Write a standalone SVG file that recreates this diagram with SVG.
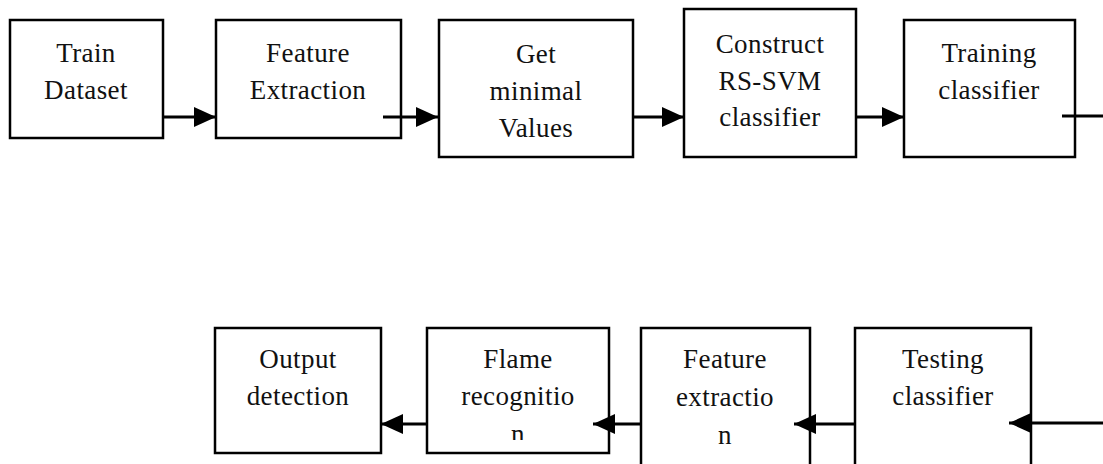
<svg xmlns="http://www.w3.org/2000/svg" width="1103" height="464" viewBox="0 0 1103 464">
<style>
.box{fill:#fff;stroke:#000;stroke-width:2.5}
.t{font-family:"Liberation Serif","Times New Roman",serif;font-size:27px;fill:#111;text-anchor:middle;letter-spacing:0.4px}
.c{stroke:#000;stroke-width:3;fill:none;marker-end:url(#ah)}
.c2{stroke:#000;stroke-width:3;fill:none}
</style>
<defs>
<marker id="ah" markerUnits="userSpaceOnUse" markerWidth="22" markerHeight="20" refX="22" refY="10" orient="auto" viewBox="0 0 22 20">
<path d="M0,0 L22,10 L0,20 Z" fill="#000"/>
</marker>
<clipPath id="clipFlame"><rect x="427" y="328" width="182" height="112"/></clipPath>
</defs>
<g id="n1"><rect class="box" x="10" y="20" width="153" height="118"/>
<text class="t" x="86" y="62">Train</text><text class="t" x="86" y="98.5">Dataset</text></g>
<g id="n2"><rect class="box" x="216" y="20" width="185" height="118"/>
<text class="t" x="308" y="62">Feature</text><text class="t" x="308" y="98.5">Extraction</text></g>
<g id="n3"><rect class="box" x="439" y="20" width="194" height="137"/>
<text class="t" x="536" y="63">Get</text><text class="t" x="536" y="100">minimal</text><text class="t" x="536" y="137">Values</text></g>
<g id="n4"><rect class="box" x="684" y="9" width="172" height="148"/>
<text class="t" x="770" y="53">Construct</text><text class="t" x="770" y="89.5">RS-SVM</text><text class="t" x="770" y="126">classifier</text></g>
<g id="n5"><rect class="box" x="904" y="20" width="171" height="137"/>
<text class="t" x="989" y="62">Training</text><text class="t" x="989" y="98.5">classifier</text></g>
<g id="n6"><rect class="box" x="215" y="328" width="166" height="125"/>
<text class="t" x="298" y="368">Output</text><text class="t" x="298" y="405">detection</text></g>
<g id="n7"><rect class="box" x="427" y="328" width="182" height="125"/>
<g clip-path="url(#clipFlame)"><text class="t" x="518" y="368">Flame</text><text class="t" x="518" y="405">recognitio</text><text class="t" x="518" y="443">n</text></g></g>
<g id="n8"><rect class="box" x="641" y="328" width="169" height="150"/>
<text class="t" x="725" y="368">Feature</text><text class="t" x="725" y="406">extractio</text><text class="t" x="725" y="444">n</text></g>
<g id="n9"><rect class="box" x="855" y="328" width="176" height="150"/>
<text class="t" x="943" y="368">Testing</text><text class="t" x="943" y="405">classifier</text></g>
<g id="connectors">
<line class="c" x1="163" y1="117" x2="216" y2="117"/>
<line class="c" x1="383" y1="117" x2="438" y2="117"/>
<line class="c" x1="633" y1="117" x2="684" y2="117"/>
<line class="c" x1="856" y1="117" x2="904" y2="117"/>
<line class="c2" x1="1062" y1="116" x2="1103" y2="116"/>
<line class="c" x1="1103" y1="423" x2="1009" y2="423"/>
<line class="c" x1="855" y1="424" x2="794" y2="424"/>
<line class="c" x1="641" y1="424" x2="593" y2="424"/>
<line class="c" x1="427" y1="424" x2="381" y2="424"/>
</g>
</svg>
